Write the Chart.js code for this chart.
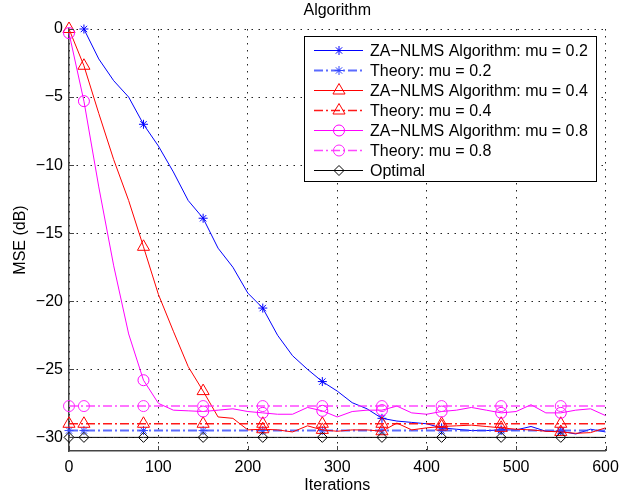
<!DOCTYPE html>
<html>
<head>
<meta charset="utf-8">
<script src="https://cdn.jsdelivr.net/npm/chart.js@4.4.1/dist/chart.umd.min.js"></script>
<style>
  html, body { margin: 0; padding: 0; background: #fff; }
  #wrap { width: 620px; height: 500px; }
</style>
</head>
<body>
<div id="wrap"><canvas id="mseChart" width="620" height="500"></canvas></div>
<script>
// iteration index of every stored sample
const iterations = [0, 16.7, 33.3, 50, 66.7, 83.3, 100, 116.7, 133.3, 150, 166.7, 183.3, 200,
    216.7, 233.3, 250, 266.7, 283.3, 300, 316.7, 333.3, 350, 366.7, 383.3, 400, 416.7, 433.3,
    450, 466.7, 483.3, 500, 516.7, 533.3, 550, 566.7, 583.3, 600];

// simulated MSE curves (dB)
const nlmsMu02 = [null, 0, -2.2, -3.8, -5.0, -7.0, -8.6, -10.5, -12.6, -13.9, -16.1, -17.5, -19.4,
    -20.5, -22.5, -24.0, -25.0, -25.9, -26.6, -27.45, -27.9, -28.6, -28.8, -28.9, -29.0, -29.3, -29.4,
    -29.5, -29.5, -29.45, -29.45, -29.2, -29.55, -29.55, -29.75, -29.4, -29.6];
const nlmsMu04 = [0, -2.7, -6.2, -9.6, -12.6, -16.0, -19.5, -22.2, -24.8, -26.6, -28.5, -28.6, -29.45,
    -29.4, -29.45, -29.6, -29.15, -29.45, -29.55, -29.45, -29.45, -29.55, -28.95, -29.45, -29.3, -29.2, -29.15,
    -29.1, -29.2, -29.3, -29.4, -29.45, -29.55, -29.6, -29.7, -29.65, -29.3];
const nlmsMu08 = [-0.3, -5.3, -11.6, -17.4, -22.4, -25.8, -27.5, -28.0, -28.05, -28.1, -28.0, -27.9, -28.1,
    -28.2, -28.3, -28.3, -27.8, -28.05, -28.5, -28.1, -28.0, -28.0, -27.7, -28.2, -28.3, -28.1, -28.0,
    -27.8, -28.0, -28.2, -28.1, -27.6, -28.2, -28.2, -28.0, -27.9, -28.4];

// steady-state predictions (dB)
const theoryMu02 = [-29.5, -29.5, -29.5, -29.5, -29.5, -29.5, -29.5, -29.5, -29.5, -29.5, -29.5, -29.5, -29.5,
    -29.5, -29.5, -29.5, -29.5, -29.5, -29.5, -29.5, -29.5, -29.5, -29.5, -29.5, -29.5, -29.5, -29.5,
    -29.5, -29.5, -29.5, -29.5, -29.5, -29.5, -29.5, -29.5, -29.5, -29.5];
const theoryMu04 = [-29, -29, -29, -29, -29, -29, -29, -29, -29, -29, -29, -29, -29,
    -29, -29, -29, -29, -29, -29, -29, -29, -29, -29, -29, -29, -29, -29,
    -29, -29, -29, -29, -29, -29, -29, -29, -29, -29];
const theoryMu08 = [-27.7, -27.7, -27.7, -27.7, -27.7, -27.7, -27.7, -27.7, -27.7, -27.7, -27.7, -27.7, -27.7,
    -27.7, -27.7, -27.7, -27.7, -27.7, -27.7, -27.7, -27.7, -27.7, -27.7, -27.7, -27.7, -27.7, -27.7,
    -27.7, -27.7, -27.7, -27.7, -27.7, -27.7, -27.7, -27.7, -27.7, -27.7];
const optimal = [-30, -30, -30, -30, -30, -30, -30, -30, -30, -30, -30, -30, -30,
    -30, -30, -30, -30, -30, -30, -30, -30, -30, -30, -30, -30, -30, -30,
    -30, -30, -30, -30, -30, -30, -30, -30, -30, -30];

// samples that get a marker
const markerIndex = [0, 1, 5, 9, 13, 17, 21, 25, 29, 33];

const xTicks = [0, 100, 200, 300, 400, 500, 600];
const yTicks = [0, -5, -10, -15, -20, -25, -30];

const seriesLabels = [
    'ZA\u2212NLMS Algorithm: mu = 0.2',
    'Theory: mu = 0.2',
    'ZA\u2212NLMS Algorithm: mu = 0.4',
    'Theory: mu = 0.4',
    'ZA\u2212NLMS Algorithm: mu = 0.8',
    'Theory: mu = 0.8',
    'Optimal'
];

const FONT = '16px "Liberation Sans", Arial, Helvetica, sans-serif';
const DASH_DOT = [9, 3, 2, 3];

function makeSeries(idx, values, color, style, radius, dash, width) {
    return {
        label: seriesLabels[idx],
        data: values.map((v, i) => ({ x: iterations[i], y: v })),
        borderColor: color,
        backgroundColor: 'rgba(0,0,0,0)',
        borderWidth: width,
        borderDash: dash,
        pointStyle: style,
        pointRadius: ctx => markerIndex.includes(ctx.dataIndex) ? radius : 0,
        pointBorderColor: color.replace(/,\s*0\.\d+\)/, ',1)'),
        pointBorderWidth: 1,
        pointBackgroundColor: 'rgba(0,0,0,0)',
        markerRadius: radius,
        tension: 0,
        spanGaps: false,
        clip: false,
        order: 10 - idx
    };
}

const datasets = [
    makeSeries(0, nlmsMu02, '#0000ff', 'star', 4.5, [], 1),
    makeSeries(1, theoryMu02, 'rgba(50,70,255,0.8)', 'star', 4.5, DASH_DOT, 2),
    makeSeries(2, nlmsMu04, '#ff0000', 'triangle', 7, [], 1),
    makeSeries(3, theoryMu04, 'rgba(255,0,0,0.9)', 'triangle', 7, DASH_DOT, 1.5),
    makeSeries(4, nlmsMu08, '#ff00ff', 'circle', 5.5, [], 1),
    makeSeries(5, theoryMu08, 'rgba(255,40,255,0.85)', 'circle', 5.5, DASH_DOT, 1.5),
    makeSeries(6, optimal, '#000000', 'rectRot', 5, [], 1)
];

function fmtTick(v) {
    return v < 0 ? '\u2212' + Math.abs(v) : String(v);
}

// title, axis names, inward tick marks and the boxed legend
const decorations = {
    id: 'decorations',
    afterDraw(chart) {
        const ctx = chart.ctx;
        const area = chart.chartArea;
        const xs = chart.scales.x, ys = chart.scales.y;
        ctx.save();
        ctx.fillStyle = '#000';
        ctx.font = FONT;
        ctx.textAlign = 'center';
        ctx.textBaseline = 'alphabetic';
        ctx.fillText('Algorithm', (area.left + area.right) / 2, 15);
        ctx.fillText('Iterations', (area.left + area.right) / 2, 490);
        ctx.save();
        ctx.translate(25, (area.top + area.bottom) / 2);
        ctx.rotate(-Math.PI / 2);
        ctx.fillText('MSE (dB)', 0, 0);
        ctx.restore();

        ctx.strokeStyle = '#444';
        ctx.lineWidth = 1;
        ctx.beginPath();
        xTicks.forEach(t => {
            const px = Math.round(xs.getPixelForValue(t)) + 0.5;
            ctx.moveTo(px, area.bottom);
            ctx.lineTo(px, area.bottom - 5);
        });
        yTicks.forEach(t => {
            const py = Math.round(ys.getPixelForValue(t)) + 0.5;
            ctx.moveTo(area.left, py);
            ctx.lineTo(area.left + 5, py);
        });
        ctx.stroke();

        // legend
        const box = { x: 304.5, y: 36.5, w: 292, h: 145 };
        ctx.fillStyle = '#fff';
        ctx.fillRect(box.x, box.y, box.w, box.h);
        ctx.strokeStyle = '#000';
        ctx.lineWidth = 1;
        ctx.strokeRect(box.x, box.y, box.w, box.h);
        ctx.textAlign = 'left';
        ctx.textBaseline = 'middle';
        chart.data.datasets.forEach((ds, i) => {
            const y = 50.5 + i * 20;
            ctx.save();
            ctx.strokeStyle = ds.borderColor;
            ctx.lineWidth = ds.borderWidth;
            ctx.setLineDash(ds.borderDash);
            ctx.beginPath();
            ctx.moveTo(314, y);
            ctx.lineTo(363, y);
            ctx.stroke();
            ctx.restore();
            ctx.save();
            ctx.strokeStyle = ds.pointBorderColor;
            ctx.fillStyle = 'rgba(0,0,0,0)';
            ctx.lineWidth = 1;
            Chart.helpers.drawPoint(ctx, {
                pointStyle: ds.pointStyle, radius: ds.markerRadius, rotation: 0, borderWidth: 1
            }, 339, y);
            ctx.restore();
            ctx.fillStyle = '#000';
            ctx.fillText(ds.label, 370, y + 1);
        });
        ctx.restore();
    }
};

new Chart(document.getElementById('mseChart'), {
    type: 'line',
    data: { datasets },
    options: {
        responsive: false,
        animation: false,
        layout: { padding: { top: 29, right: 14.5, left: 0, bottom: 0 } },
        plugins: {
            legend: { display: false },
            title: { display: false },
            tooltip: { enabled: false }
        },
        scales: {
            x: {
                type: 'linear',
                min: 0,
                max: 600,
                afterFit: s => { s.height = 49; s.paddingLeft = 0; s.paddingRight = 0; },
                afterBuildTicks: s => { s.ticks = xTicks.map(v => ({ value: v })); },
                ticks: { color: '#000', font: { size: 16, family: '"Liberation Sans", Arial, sans-serif' },
                    padding: 7, maxRotation: 0, callback: fmtTick },
                grid: { color: '#222', lineWidth: 1, drawTicks: false },
                border: { display: true, color: '#444', width: 1.5, dash: [1.5, 5.5] }
            },
            y: {
                type: 'linear',
                min: -31,
                max: 0,
                afterFit: s => { s.width = 69; s.paddingTop = 0; s.paddingBottom = 0; },
                afterBuildTicks: s => { s.ticks = yTicks.map(v => ({ value: v })); },
                ticks: { color: '#000', font: { size: 16, family: '"Liberation Sans", Arial, sans-serif' },
                    padding: 6, callback: fmtTick },
                grid: { color: '#222', lineWidth: 1, drawTicks: false },
                border: { display: true, color: '#444', width: 1.5, dash: [1.5, 5.5] }
            }
        }
    },
    plugins: [decorations]
});
</script>
</body>
</html>
